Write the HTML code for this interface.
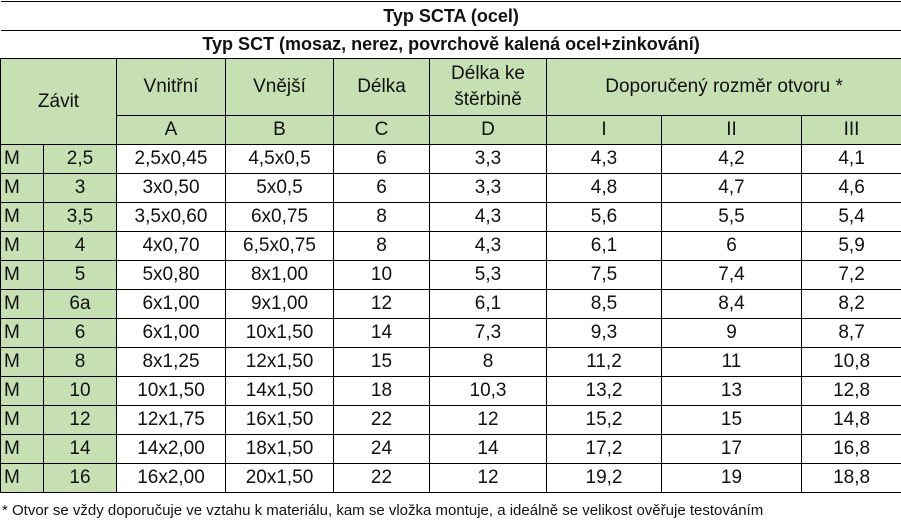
<!DOCTYPE html>
<html><head><meta charset="utf-8"><style>
body{margin:0;width:901px;height:520px;background:#fff;overflow:hidden;font-family:"Liberation Sans","DejaVu Sans",sans-serif;}
table{border-collapse:collapse;table-layout:fixed;width:901px;position:absolute;left:0;top:1px;}
td{border:1px solid #000;text-align:center;font-size:19px;color:#111;padding:0;height:28px;white-space:nowrap;overflow:hidden;}
td.g{background:#c6e0b4;}
td.l{text-align:left;padding-left:3px;}
.t{font-weight:bold;font-size:18px;height:28px;border-left:none;border-right:none;}
#foot{position:absolute;left:2px;top:502px;font-size:15px;color:#111;white-space:nowrap;}
</style></head><body>
<table>
<colgroup><col style="width:43px"><col style="width:73px"><col style="width:109px"><col style="width:108px"><col style="width:96px"><col style="width:117px"><col style="width:115px"><col style="width:140px"><col style="width:100px"></colgroup>
<tr><td class="t" colspan="9">Typ SCTA (ocel)</td></tr>
<tr><td class="t" colspan="9" style="height:27px">Typ SCT (mosaz, nerez, povrchově kalená ocel+zinkování)</td></tr>
<tr style="height:57px">
<td class="g" colspan="2" rowspan="2">Závit</td>
<td class="g">Vnitřní</td>
<td class="g">Vnější</td>
<td class="g">Délka</td>
<td class="g" style="line-height:26px">Délka ke<br>štěrbině</td>
<td class="g" colspan="3">Doporučený rozměr otvoru *</td>
</tr>
<tr>
<td class="g">A</td><td class="g">B</td><td class="g">C</td><td class="g">D</td><td class="g">I</td><td class="g">II</td><td class="g">III</td>
</tr>
<tbody id="body"></tbody>
</table>
<div id="foot">* Otvor se vždy doporučuje ve vztahu k materiálu, kam se vložka montuje, a ideálně se velikost ověřuje testováním</div>
<script>
var rows=[
["2,5","2,5x0,45","4,5x0,5","6","3,3","4,3","4,2","4,1"],
["3","3x0,50","5x0,5","6","3,3","4,8","4,7","4,6"],
["3,5","3,5x0,60","6x0,75","8","4,3","5,6","5,5","5,4"],
["4","4x0,70","6,5x0,75","8","4,3","6,1","6","5,9"],
["5","5x0,80","8x1,00","10","5,3","7,5","7,4","7,2"],
["6a","6x1,00","9x1,00","12","6,1","8,5","8,4","8,2"],
["6","6x1,00","10x1,50","14","7,3","9,3","9","8,7"],
["8","8x1,25","12x1,50","15","8","11,2","11","10,8"],
["10","10x1,50","14x1,50","18","10,3","13,2","13","12,8"],
["12","12x1,75","16x1,50","22","12","15,2","15","14,8"],
["14","14x2,00","18x1,50","24","14","17,2","17","16,8"],
["16","16x2,00","20x1,50","22","12","19,2","19","18,8"]];
var b=document.getElementById('body');
rows.forEach(function(r){
var tr=document.createElement('tr');


var m=document.createElement('td');m.className='g l';m.textContent='M';


tr.appendChild(m);
r.forEach(function(v,i){
var td=document.createElement('td');td.textContent=v;
if(i==0)td.className='g';


tr.appendChild(td);});
b.appendChild(tr);});
</script>
</body></html>
